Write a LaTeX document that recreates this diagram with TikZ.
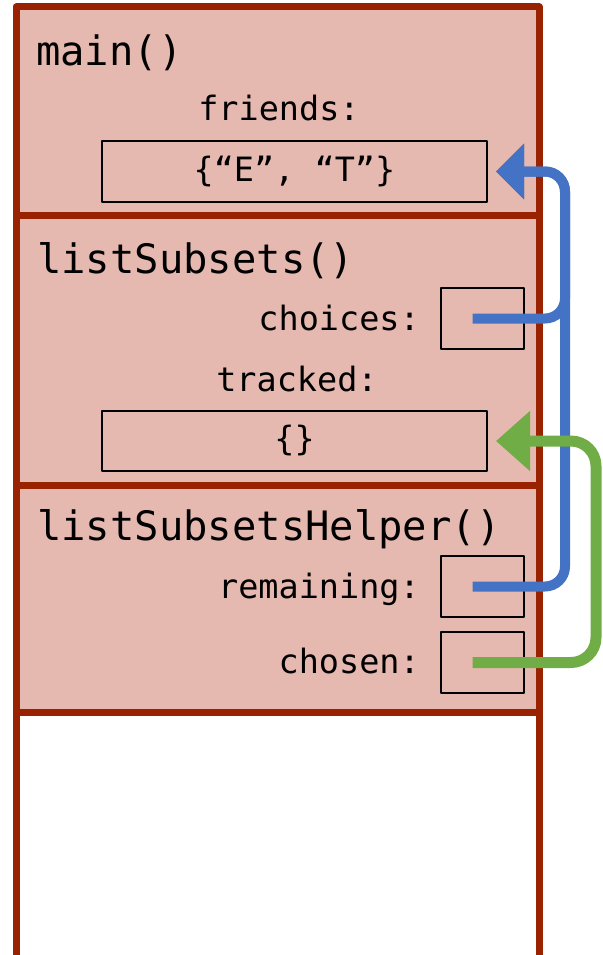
\documentclass[tikz,border=0pt]{standalone}
\usepackage{fontspec}
\setmainfont{DejaVu Sans Mono}
\setmonofont{DejaVu Sans Mono}
\usepackage{xcolor}
\usetikzlibrary{positioning,arrows.meta,calc}
\definecolor{framered}{HTML}{992200}
\definecolor{framefill}{HTML}{E6B9B0}
\definecolor{refblue}{HTML}{4472C4}
\definecolor{refgreen}{HTML}{70AD47}
\newcommand{\stackfont}{\fontsize{40.5}{48}\selectfont}
\newcommand{\slotfont}{\fontsize{33.5}{40}\selectfont}

\begin{document}
\begin{tikzpicture}[
    x=1pt, y=-1pt,
    frame/.style = {
        rectangle,
        draw=framered,
        line width=7pt,
        fill=framefill,
        anchor=north west,
        minimum width=523pt,
        inner sep=0pt,
        outer sep=0pt
    },
    freeframe/.style = {frame, fill=white},
    varbox/.style = {rectangle, draw=black, line width=2pt, minimum height=61pt, inner sep=0pt, font=\slotfont},
    smallbox/.style = {varbox, minimum width=83pt},
    framename/.style = {anchor=base west, inner sep=0pt, font=\stackfont},
    varname/.style = {inner sep=0pt, font=\slotfont},
    bluearrow/.style = {-{Triangle[length=28pt,width=54pt]}, line width=10pt, draw=refblue, rounded corners=20pt, shorten >=8pt},
    greenarrow/.style = {-{Triangle[length=34pt,width=58pt]}, line width=11pt, draw=refgreen, rounded corners=25pt, shorten >=8pt},
    line join=round
]

\useasboundingbox (0,0) rectangle (602,955);
\clip (0,0) rectangle (602,955);

% stack frames
\node[frame, minimum height=208pt] (mainframe) at (16,7) {};
\node[frame, minimum height=270pt] (subsetsframe) at (16,215) {};
\node[frame, minimum height=227pt] (helperframe) at (16,485) {};
\node[freeframe, minimum height=260pt] (emptyframe) at (16,712) {};

% main()
\node[framename] (maintitle) at (36,66) {main()};
\node[varname, anchor=base] (friendslabel) at (279,121) {friends:};
\node[varbox, minimum width=385pt] (friendsbox) at (294.5,171.5) {\{“E”, “T”\}};

% listSubsets()
\node[framename] (subsetstitle) at (37,273) {listSubsets()};
\node[varname, anchor=base east] (choiceslabel) at (420,330) {choices:};
\node[smallbox] (choicesbox) at (482.5,318.5) {};
\node[varname, anchor=base] (trackedlabel) at (297,391) {tracked:};
\node[varbox, minimum width=385pt, minimum height=60pt] (trackedbox) at (294.5,441) {\{\}};

% listSubsetsHelper()
\node[framename] (helpertitle) at (37,540) {listSubsetsHelper()};
\node[varname, anchor=base east] (remaininglabel) at (420,598) {remaining:};
\node[smallbox] (remainingbox) at (482.5,586.5) {};
\node[varname, anchor=base east] (chosenlabel) at (420,673) {chosen:};
\node[smallbox] (chosenbox) at (482.5,662.5) {};

% references
\coordinate (bluerail) at (565,0);
\coordinate (greenrail) at (596,0);

\draw[bluearrow] ([xshift=-10pt]choicesbox.center) -| (bluerail |- friendsbox.east) -- (friendsbox.east);
\draw[bluearrow] ([xshift=-10pt]remainingbox.center) -| (bluerail |- friendsbox.east) -- (friendsbox.east);
\draw[greenarrow] ([xshift=-10pt]chosenbox.center) -| (greenrail |- trackedbox.east) -- (trackedbox.east);

\end{tikzpicture}
\end{document}
